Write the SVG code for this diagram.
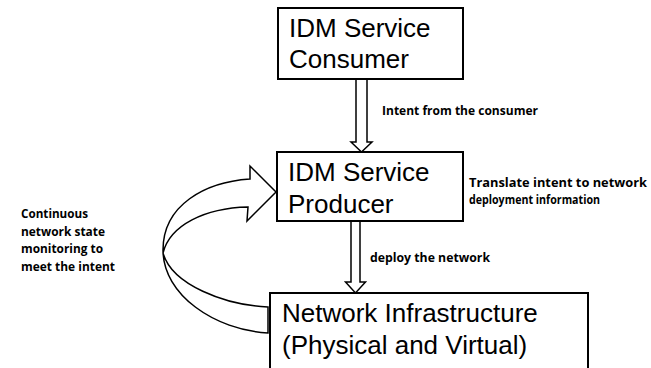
<svg xmlns="http://www.w3.org/2000/svg" width="651" height="368" viewBox="0 0 651 368">
<style>
.box{fill:#fff;stroke:#000;stroke-width:2}
.big{font-family:"Liberation Sans",Arial,sans-serif;font-size:26px;fill:#000}
.lbl{font-family:"Open Sans","Liberation Sans",sans-serif;font-weight:bold;font-size:11.5px;fill:#000}
.arr{fill:#fff;stroke:#000;stroke-width:1.5;stroke-linejoin:miter}
</style>
<rect width="651" height="368" fill="#fff"/>
<g id="connectors">
<path class="arr" d="M356,79 L367,79 L367,142 L372,142 L361.5,152 L351,142 L356,142 Z"/>
<path class="arr" d="M351,221 L360,221 L360,282 L365.5,282 L355.5,293 L345.5,282 L351,282 Z"/>
<g id="loop">
<path class="arr" d="M250,179 C205,182 163,205 163,250 C163,295 215,330 268,333 L268,307 C225,305 172,285 163,253 C170,225 205,208 248,207 L247,221 L276,192 L250,166 Z"/>
</g>
</g>
<g id="consumer">
<rect class="box" x="278" y="8" width="185" height="71"/>
<text class="big" x="289" y="37">IDM Service</text>
<text class="big" x="289" y="68">Consumer</text>
</g>
<g id="producer">
<rect class="box" x="277" y="152" width="186" height="69"/>
<text class="big" x="288" y="181">IDM Service</text>
<text class="big" x="288" y="213">Producer</text>
</g>
<g id="infrastructure">
<rect class="box" x="270" y="293" width="318" height="90"/>
<text class="big" x="282" y="322">Network Infrastructure</text>
<text class="big" x="282" y="354">(Physical and Virtual)</text>
</g>
<g id="labels">
<text class="lbl" x="382" y="115" textLength="156" lengthAdjust="spacingAndGlyphs">Intent from the consumer</text>
<text class="lbl" x="469" y="187" textLength="178" lengthAdjust="spacingAndGlyphs">Translate intent to network</text>
<text class="lbl" x="469" y="204" textLength="131" lengthAdjust="spacingAndGlyphs">deployment information</text>
<text class="lbl" x="370" y="262" textLength="120" lengthAdjust="spacingAndGlyphs">deploy the network</text>
<text class="lbl" x="21" y="218" textLength="67" lengthAdjust="spacingAndGlyphs">Continuous</text>
<text class="lbl" x="21" y="236" textLength="84" lengthAdjust="spacingAndGlyphs">network state</text>
<text class="lbl" x="21" y="253" textLength="82" lengthAdjust="spacingAndGlyphs">monitoring to</text>
<text class="lbl" x="21" y="271" textLength="94" lengthAdjust="spacingAndGlyphs">meet the intent</text>
</g>
</svg>
